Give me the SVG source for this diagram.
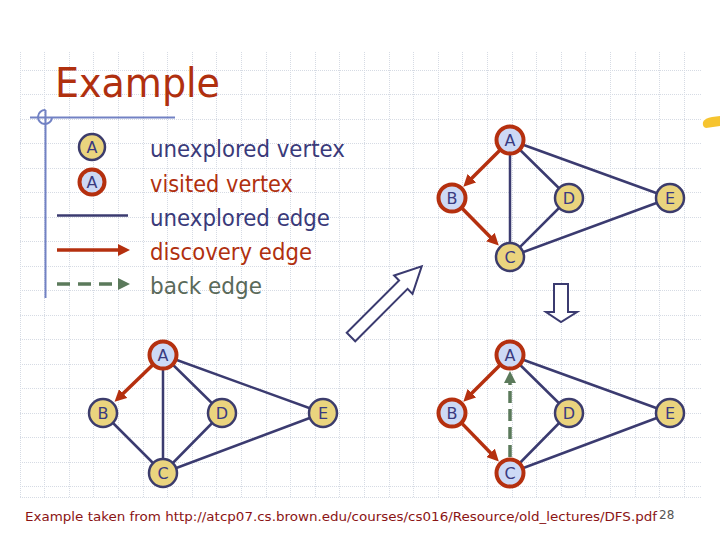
<svg xmlns="http://www.w3.org/2000/svg" width="720" height="540" viewBox="0 0 720 540">
<style>
.grid{fill:none;stroke:#d6dbe4;stroke-width:1;stroke-dasharray:1 1}
.un circle{fill:#ead47e;stroke:#3c3c6c;stroke-width:2.5}
.vi circle{fill:#cdd9f5;stroke:#b5300f;stroke-width:4}
.lbl{font-family:"DejaVu Sans",Verdana,sans-serif;font-size:16px;fill:#3a3a80;text-anchor:middle}
.edge{stroke:#3b3b70;stroke-width:2.5;fill:none}
.disc{stroke:#b5300f;stroke-width:3.5;fill:none;marker-end:url(#ar)}
.back{stroke:#5b7a5b;stroke-width:3.5;fill:none;stroke-dasharray:12 6;marker-end:url(#ag)}
.leg{font-family:"DejaVu Sans",Verdana,sans-serif;font-size:23px}
.navy{fill:#3a3a7a}.red{fill:#b0300f}.grn{fill:#5a6a5a}
</style>
<defs>
<marker id="ar" markerUnits="userSpaceOnUse" markerWidth="12" markerHeight="12" refX="4" refY="6" orient="auto"><path d="M0,0 L12,6 L0,12 z" fill="#b5300f"/></marker>
<marker id="ag" markerUnits="userSpaceOnUse" markerWidth="12" markerHeight="12" refX="4" refY="6" orient="auto"><path d="M0,0 L12,6 L0,12 z" fill="#5b7a5b"/></marker>
</defs>
<rect width="720" height="540" fill="#ffffff"/>
<path class="grid" d="M20.5 52V497M44.5 52V497M69.5 52V497M93.5 52V497M118.5 52V497M143.5 52V497M167.5 52V497M192.5 52V497M216.5 52V497M241.5 52V497M266.5 52V497M290.5 52V497M315.5 52V497M339.5 52V497M364.5 52V497M389.5 52V497M413.5 52V497M438.5 52V497M462.5 52V497M487.5 52V497M512.5 52V497M536.5 52V497M561.5 52V497M585.5 52V497M610.5 52V497M635.5 52V497M659.5 52V497M684.5 52V497M20 70.5H702M20 94.5H702M20 119.5H702M20 143.5H702M20 168.5H702M20 192.5H702M20 217.5H702M20 241.5H702M20 266.5H702M20 290.5H702M20 315.5H702M20 339.5H702M20 364.5H702M20 388.5H702M20 413.5H702M20 437.5H702M20 462.5H702M20 486.5H702M20 497.5H702"/>
<text x="55" y="97" font-family="DejaVu Sans,Verdana,sans-serif" font-size="40" fill="#b0300f" textLength="165" lengthAdjust="spacingAndGlyphs">Example</text>
<g id="bullet" fill="none" stroke="#7282c4" stroke-width="2">
<path d="M30 117.5H175M45.5 110V298"/>
<path d="M45.5 110 A7 7 0 1 0 52 117.5" />
</g>
<path id="icon" d="M703 122 Q705 118 712 117 L720 116 L720 126 L706 128 Q702 127 703 122 Z" fill="#f6c42f"/>
<g id="legend">
<g class="un"><circle cx="92" cy="147" r="13"/></g><text class="lbl" x="92" y="152.5">A</text>
<g class="vi"><circle cx="92" cy="182" r="12.5"/></g><text class="lbl" x="92" y="187.5">A</text>
<line x1="57" y1="215.5" x2="128" y2="215.5" stroke="#3b3b70" stroke-width="2.5"/>
<line x1="57" y1="250" x2="122" y2="250" stroke="#b5300f" stroke-width="3.5" marker-end="url(#ar)"/>
<line x1="57" y1="284" x2="122" y2="284" stroke="#5b7a5b" stroke-width="3.5" stroke-dasharray="13 8" marker-end="url(#ag)"/>
<text class="leg navy" x="150" y="157" textLength="195" lengthAdjust="spacingAndGlyphs">unexplored vertex</text>
<text class="leg red" x="150" y="191.5" textLength="143" lengthAdjust="spacingAndGlyphs">visited vertex</text>
<text class="leg navy" x="150" y="225.5" textLength="180" lengthAdjust="spacingAndGlyphs">unexplored edge</text>
<text class="leg red" x="150" y="260" textLength="162" lengthAdjust="spacingAndGlyphs">discovery edge</text>
<text class="leg grn" x="150" y="294" textLength="112" lengthAdjust="spacingAndGlyphs">back edge</text>
</g>
<g id="connectors">
<path class="edge" d="M510 140L510 257M510 140L569 198M510 140L670 198M569 198L510 257M510 257L670 198"/>
<line class="disc" x1="500.1" y1="149.9" x2="469" y2="181"/>
<line class="disc" x1="461.8" y1="208" x2="493.2" y2="239.9"/>
<path class="edge" d="M163 355L163 473M163 355L222 413M163 355L323 413M222 413L163 473M163 473L323 413M103 413L163 473"/>
<line class="disc" x1="152.9" y1="364.7" x2="120.3" y2="396.3"/>
<path class="edge" d="M510 355L569 413M510 355L670 413M569 413L510 473M510 473L670 413"/>
<line class="disc" x1="500.1" y1="364.9" x2="469" y2="396"/>
<line class="disc" x1="461.7" y1="423.1" x2="493.3" y2="455.7"/>
<line class="back" x1="510" y1="457" x2="510" y2="379"/>
<path d="M0 -6 L74 -6 L74 -13 L100 0 L74 13 L74 6 L0 6 Z" transform="translate(351 337) rotate(-45)" fill="#ffffff" stroke="#3b3b70" stroke-width="2"/>
<path d="M554 284 L568 284 L568 312 L577 312 L561 322 L546 312 L554 312 Z" fill="#ffffff" stroke="#3b3b70" stroke-width="2"/>
</g>
<g id="tr-A" class="vi"><circle cx="510" cy="140" r="13.5"/><text class="lbl" x="510" y="146">A</text></g>
<g id="tr-B" class="vi"><circle cx="452" cy="198" r="13.5"/><text class="lbl" x="452" y="204">B</text></g>
<g id="tr-C" class="un"><circle cx="510" cy="257" r="14"/><text class="lbl" x="510" y="263">C</text></g>
<g id="tr-D" class="un"><circle cx="569" cy="198" r="14"/><text class="lbl" x="569" y="204">D</text></g>
<g id="tr-E" class="un"><circle cx="670" cy="198" r="14"/><text class="lbl" x="670" y="204">E</text></g>
<g id="bl-A" class="vi"><circle cx="163" cy="355" r="13.5"/><text class="lbl" x="163" y="361">A</text></g>
<g id="bl-B" class="un"><circle cx="103" cy="413" r="14"/><text class="lbl" x="103" y="419">B</text></g>
<g id="bl-C" class="un"><circle cx="163" cy="473" r="14"/><text class="lbl" x="163" y="479">C</text></g>
<g id="bl-D" class="un"><circle cx="222" cy="413" r="14"/><text class="lbl" x="222" y="419">D</text></g>
<g id="bl-E" class="un"><circle cx="323" cy="413" r="14"/><text class="lbl" x="323" y="419">E</text></g>
<g id="br-A" class="vi"><circle cx="510" cy="355" r="13.5"/><text class="lbl" x="510" y="361">A</text></g>
<g id="br-B" class="vi"><circle cx="452" cy="413" r="13.5"/><text class="lbl" x="452" y="419">B</text></g>
<g id="br-C" class="vi"><circle cx="510" cy="473" r="13.5"/><text class="lbl" x="510" y="479">C</text></g>
<g id="br-D" class="un"><circle cx="569" cy="413" r="14"/><text class="lbl" x="569" y="419">D</text></g>
<g id="br-E" class="un"><circle cx="670" cy="413" r="14"/><text class="lbl" x="670" y="419">E</text></g>
<text x="25" y="521" font-family="DejaVu Sans,sans-serif" font-size="13" fill="#8b1414" textLength="632" lengthAdjust="spacingAndGlyphs">Example taken from http://atcp07.cs.brown.edu/courses/cs016/Resource/old_lectures/DFS.pdf</text>
<text x="659" y="519" font-family="DejaVu Sans,sans-serif" font-size="12" fill="#555555">28</text>
</svg>
